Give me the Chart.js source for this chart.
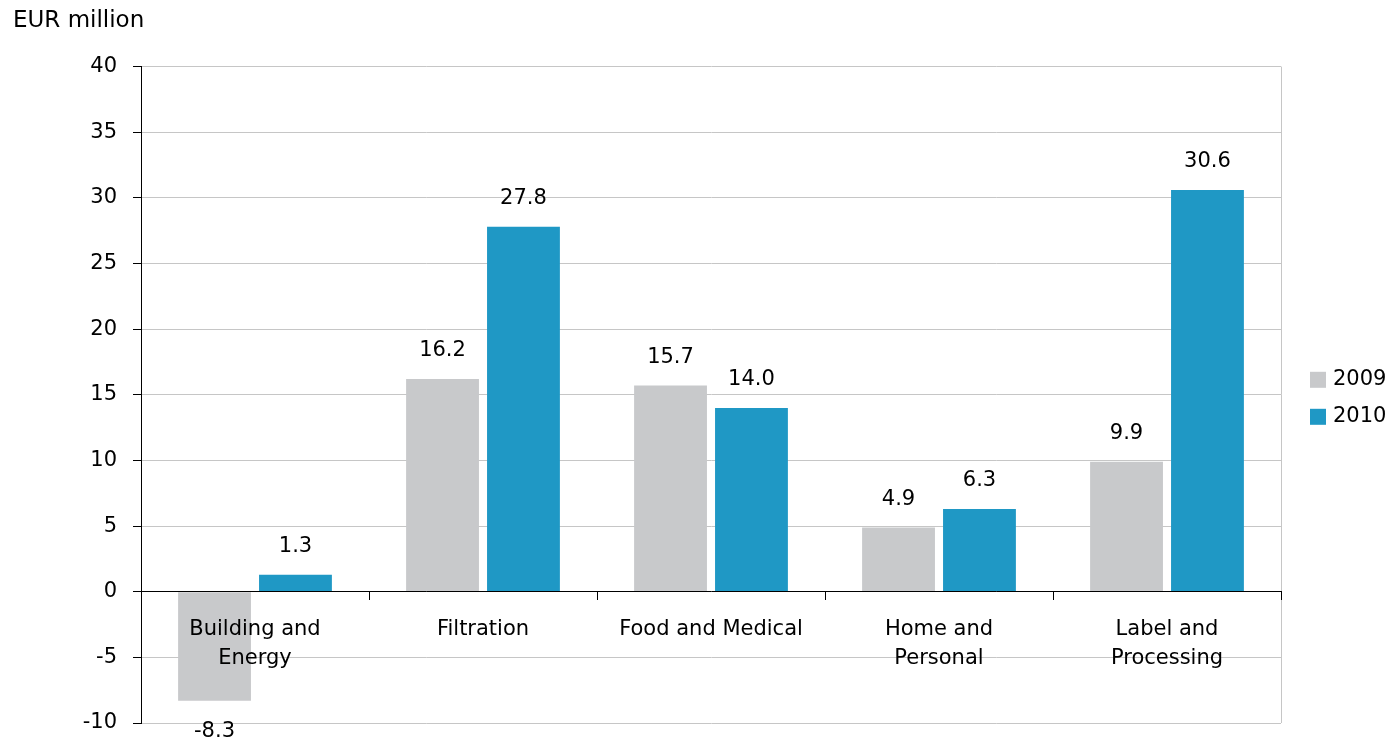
<!DOCTYPE html>
<html>
<head>
<meta charset="utf-8">
<title>EUR million</title>
<script src="https://cdn.jsdelivr.net/npm/chart.js@4.4.1/dist/chart.umd.min.js"></script>
<style>
  body { margin: 0; background: #fff; }
  #wrap { width: 1393px; height: 742px; position: relative; }
</style>
</head>
<body>
<div id="wrap"><canvas id="myChart"></canvas></div>
<script>
// categories and values (EUR million)
var categories = [['Building and', 'Energy'], 'Filtration', 'Food and Medical', ['Home and', 'Personal'], ['Label and', 'Processing']];
var seriesNames = ['2009', '2010'];
var values2009 = [-8.3, 16.2, 15.7, 4.9, 9.9];
var values2010 = [1.3, 27.8, 14.0, 6.3, 30.6];
var yTicks = [-10, -5, 0, 5, 10, 15, 20, 25, 30, 35, 40];

var FONT = 'DejaVu Sans, Arial, sans-serif';
var GRID = '#c6c6c6';

// value labels above/below the bars
var barLabels = {
    id: 'barLabels',
    afterDatasetsDraw: function (chart) {
        var ctx = chart.ctx;
        ctx.save();
        ctx.font = '21px ' + FONT;
        ctx.fillStyle = '#000';
        ctx.textAlign = 'center';
        ctx.textBaseline = 'middle';
        chart.data.datasets.forEach(function (ds, i) {
            var meta = chart.getDatasetMeta(i);
            meta.data.forEach(function (bar, j) {
                var v = ds.data[j];
                var y = v >= 0 ? bar.y - 28 : bar.y + 31;
                ctx.fillText(v.toFixed(1), bar.x, y);
            });
        });
        ctx.restore();
    }
};

// right edge of the plot frame
var plotFrame = {
    id: 'plotFrame',
    beforeDatasetsDraw: function (chart) {
        var a = chart.chartArea;
        var ctx = chart.ctx;
        ctx.save();
        ctx.strokeStyle = GRID;
        ctx.lineWidth = 1;
        ctx.beginPath();
        ctx.moveTo(Math.round(a.right) + 0.5, a.top);
        ctx.lineTo(Math.round(a.right) + 0.5, a.bottom);
        ctx.stroke();
        ctx.restore();
    }
};

// legend on the right, next to the middle of the plot
var sideLegend = {
    id: 'sideLegend',
    afterDraw: function (chart) {
        var a = chart.chartArea;
        var ctx = chart.ctx;
        var x = a.right + 29;
        var y0 = (a.top + a.bottom) / 2 - 15;
        ctx.save();
        ctx.font = '21px ' + FONT;
        ctx.textAlign = 'left';
        ctx.textBaseline = 'middle';
        chart.data.datasets.forEach(function (ds, i) {
            var cy = y0 + i * 37;
            ctx.fillStyle = ds.backgroundColor;
            ctx.fillRect(x, cy - 8, 16, 16);
            ctx.fillStyle = '#000';
            ctx.fillText(ds.label, x + 23, cy);
        });
        ctx.restore();
    }
};

function noPadding(scale) {
    scale.paddingTop = 0;
    scale.paddingBottom = 0;
    scale.paddingLeft = 0;
    scale.paddingRight = 0;
}

var ctx = document.getElementById('myChart').getContext('2d');
var myChart = new Chart(ctx, {
    type: 'bar',
    data: {
        labels: categories,
        datasets: [{
            label: seriesNames[0],
            data: values2009,
            backgroundColor: '#c8c9cb',
            categoryPercentage: 0.71,
            barPercentage: 0.9
        }, {
            label: seriesNames[1],
            data: values2010,
            backgroundColor: '#1f98c5',
            categoryPercentage: 0.71,
            barPercentage: 0.9
        }]
    },
    options: {
        responsive: true,
        maintainAspectRatio: false,
        animation: false,
        layout: { padding: { left: 13, right: 112, top: 0, bottom: 19 } },
        plugins: {
            title: {
                display: true,
                text: 'EUR million',
                align: 'start',
                color: '#000',
                font: { family: FONT, size: 23, weight: 'normal' },
                padding: { top: 7, bottom: 32 }
            },
            legend: { display: false },
            tooltip: { enabled: false }
        },
        scales: {
            x: {
                position: { y: 0 },
                afterFit: noPadding,
                grid: {
                    drawOnChartArea: false,
                    drawTicks: true,
                    tickLength: 8,
                    tickColor: '#000',
                    color: '#000',
                    z: 1
                },
                border: { color: '#000', width: 1, z: 1 },
                ticks: {
                    color: '#000',
                    font: { family: FONT, size: 21, lineHeight: 1.38 },
                    padding: 15,
                    maxRotation: 0,
                    autoSkip: false,
                    z: 1
                }
            },
            y: {
                min: yTicks[0],
                max: yTicks[yTicks.length - 1],
                afterBuildTicks: function (scale) {
                    scale.ticks = yTicks.map(function (v) { return { value: v }; });
                },
                afterFit: function (scale) {
                    noPadding(scale);
                    scale.width = 128;
                },
                grid: {
                    color: GRID,
                    tickColor: '#000',
                    tickLength: 8
                },
                border: { color: '#000', width: 1 },
                ticks: {
                    color: '#000',
                    font: { family: FONT, size: 21 },
                    padding: 16
                }
            }
        }
    },
    plugins: [barLabels, plotFrame, sideLegend]
});
</script>
</body>
</html>
